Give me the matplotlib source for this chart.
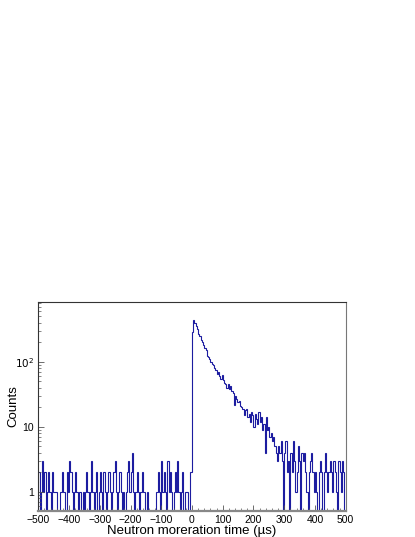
import numpy as np
import matplotlib
matplotlib.use("Agg")
import matplotlib.pyplot as plt
from matplotlib.ticker import FixedLocator, FixedFormatter, LogLocator, NullFormatter, MultipleLocator

plt.rcParams['font.family'] = ['Liberation Sans', 'DejaVu Sans']

bin_width = 4  # microseconds
t_start = -500

# counts before the pulse (-500 .. 0)
counts_before = [
    2, 0, 1, 3, 1, 2, 0, 1, 2, 1, 0, 2, 1,
    1, 1, 0, 0, 0,
    1, 2, 1, 1, 0, 2, 1,
    3, 2, 1,
    0, 1, 2, 1, 0, 1, 1,
    0, 1, 0, 1, 2, 1, 0,
    1, 3, 1,
    0, 1, 2, 0, 1, 2, 1, 0,
    2, 1, 0, 1, 2, 1, 0, 1,
    2, 3, 1,
    0, 1, 2, 1, 0, 1, 0,
    1, 2, 3, 1, 2, 4, 1, 0,
    1, 2, 1, 0, 1, 2, 1,
    1, 0, 1, 0, 0,
    0, 0, 0, 0, 0,
    1, 2, 1, 0, 3, 1, 2,
    1, 0, 3, 1, 2, 1,
    0, 1, 2, 1, 3,
    1, 0, 1, 2, 0, 1, 1,
    1, 0, 2, 2,
]

# counts after the pulse (0 .. 500)
counts_after = [
    290, 440, 400, 350, 320, 270, 250, 215, 205, 180,
    165, 150, 125, 118, 112, 100, 92, 88, 80, 74,
    66, 70, 60, 55, 62, 52, 48, 45, 40, 46,
    38, 42, 36, 33, 22, 30, 27, 24, 25, 21,
    20, 19, 15, 18, 19, 14, 16, 12, 17, 15,
    10, 16, 13, 11, 17, 12, 14, 9, 11, 4,
    14, 9, 10, 7, 8, 6, 7, 5, 4, 3,
    5, 4, 6, 3, 0, 4, 6, 2, 3, 0,
    4, 2, 6, 3, 1, 2, 5, 3, 0, 4,
    3, 4, 2, 1, 0, 2, 3, 4, 2, 1,
    2, 1, 0, 2, 3, 2, 0, 2, 4, 2,
    1, 2, 3, 2, 1, 3, 2, 1, 0, 3,
    2, 1, 3, 2, 0,
]

x_ticks = [-500, -400, -300, -200, -100, 0, 100, 200, 300, 400, 500]
y_ticks = [1, 10, 100]
y_tick_labels = ['1', '10', r'$10^2$']

counts = np.array(counts_before + counts_after, dtype=float)
edges = t_start + bin_width * np.arange(len(counts) + 1)
plot_counts = np.where(counts > 0, counts, 1e-3)

fig = plt.figure(figsize=(4.15, 5.37), dpi=100)
ax = fig.add_axes([0.0923, 0.049, 0.7407, 0.389])

ax.stairs(plot_counts, edges, color='#1c1ca0', lw=0.8)

ax.set_yscale('log')
ax.set_xlim(-500, 500)
ax.set_ylim(0.51, 840)

ax.xaxis.set_major_locator(FixedLocator(x_ticks))
ax.xaxis.set_minor_locator(MultipleLocator(20))
ax.yaxis.set_major_locator(FixedLocator(y_ticks))
ax.yaxis.set_major_formatter(FixedFormatter(y_tick_labels))
ax.yaxis.set_minor_locator(LogLocator(base=10, subs=np.arange(2, 10)))
ax.yaxis.set_minor_formatter(NullFormatter())

ax.tick_params(axis='both', which='both', direction='in', labelsize=7.5, pad=3)
ax.tick_params(axis='both', which='major', length=4, width=0.6, color='#555555')
ax.tick_params(axis='both', which='minor', length=2, width=0.5, color='#555555')

for side in ['top', 'left']:
    ax.spines[side].set_color('#333333')
    ax.spines[side].set_linewidth(0.8)
ax.spines['right'].set_color('#777777')
ax.spines['right'].set_linewidth(0.8)
ax.spines['bottom'].set_color('#888888')
ax.spines['bottom'].set_linewidth(1.6)

ax.set_xlabel('Neutron moreration time (µs)', fontsize=9.5, labelpad=0)
ax.set_ylabel('Counts', fontsize=9.5, va='center')
ax.yaxis.set_label_coords(-0.08, 0.5)

fig.savefig('out.png', dpi=100)
